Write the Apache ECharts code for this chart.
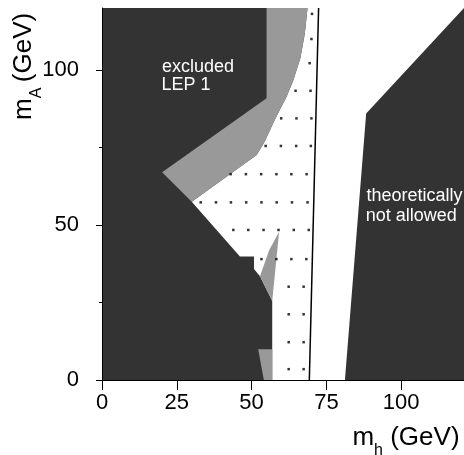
<!DOCTYPE html>
<html>
<head>
<meta charset="utf-8">
<script src="https://cdn.jsdelivr.net/npm/echarts@6/dist/echarts.min.js"></script>
<style>
  html, body { margin: 0; padding: 0; background: #ffffff; }
  #chart { width: 464px; height: 455px; }
</style>
</head>
<body>
<div id="chart"></div>
<script>
  // tick labels
  var xTicks = [0, 25, 50, 75, 100];
  var yTicks = [0, 50, 100];
  var yMinorTicks = [25, 75];

  // right edge of the LEP 2 band, bottom to top (m_h, m_A)
  var lep2Edge = [[30, 57.5], [51.7, 72.6], [54.4, 76.9], [57.2, 82.8], [59.4, 87.1], [61.7, 91.4],
                  [63.9, 96.5], [66.3, 103.8], [67.8, 111.8], [68.7, 120]];
  // edge of the LEP 1 exclusion, from the tip up to the top
  var lep1Edge = [[20.1, 67], [55, 90.9], [55, 120]];
  // lower left exclusion, top to bottom
  var lowerEdge = [[30, 57.5], [46.1, 39.8], [50.8, 39.8], [50.8, 35.8], [52.8, 33.5], [56.9, 25.5], [56.9, 0]];
  // theoretically not allowed, top to bottom
  var theoryEdge = [[121, 120], [88.3, 86], [81.2, 0]];
  // small grey LEP 2 pieces
  var greyWedge = [[59.2, 47.8], [55.9, 41.9], [52.8, 33.5], [56.9, 25.5]];
  var greyFoot = [[52.2, 9.9], [56.9, 9.9], [56.9, 0], [54.1, 0]];
  // solid boundary line
  var boundaryLine = [[69.3, 0], [72.4, 120]];
  // dotted region: [m_A, [m_h ...]]
  var dotRows = [
    [118.1, [70.2]],
    [110, [70]],
    [102.2, [69.4]],
    [93.3, [64.7, 69.7]],
    [84.4, [59.9, 65, 70]],
    [75.5, [54.7, 59.8, 64.9, 69.8]],
    [66.4, [43, 48.1, 53.2, 58.3, 63.3, 68.4]],
    [57.3, [33, 38.1, 43.1, 48.2, 53.3, 58.4, 63.5, 68.7]],
    [48.4, [43.9, 48.9, 54, 59, 64.1, 69.1]],
    [39, [53.3, 58.3, 63.3, 68.3]],
    [30.1, [62.4, 67.4]],
    [21.2, [62.4, 67.4]],
    [12.2, [62.4, 67.4]],
    [3.5, [62.4, 67.4]]
  ];

  var DARK = '#333333';
  var GREY = '#999999';
  var FONT = '"Liberation Sans", Arial, Helvetica, sans-serif';

  var whiteArea = lep2Edge.concat(theoryEdge, lowerEdge.slice().reverse());
  var greyBand = lep1Edge.concat(lep2Edge.slice().reverse());
  var dots = [];
  dotRows.forEach(function (row) {
    row[1].forEach(function (x) { dots.push([x, row[0]]); });
  });

  function area(name, pts, color) {
    return {
      name: name,
      type: 'custom',
      silent: true,
      data: pts,
      renderItem: function (params, api) {
        if (params.dataIndex !== 0) return;
        return {
          type: 'polygon',
          shape: { points: pts.map(function (p) { return api.coord(p); }) },
          style: { fill: color }
        };
      }
    };
  }

  // text placed by its baseline
  function txt(s, x, base, size, color) {
    return {
      type: 'text', x: x, y: base - 0.35 * size, silent: true,
      style: { text: s, fill: color, font: size + 'px ' + FONT, align: 'left', verticalAlign: 'middle' }
    };
  }

  function axisName(sub) {
    return [
      txt('m', 0, 0, 26, '#000'),
      txt(sub, 21.7, 9.5, 16, '#000'),
      txt('(GeV)', 37.8, 0, 26, '#000')
    ];
  }

  var chart = echarts.init(document.getElementById('chart'));
  var option = {
    animation: false,
    grid: {
      left: 102, top: 8, width: 363, height: 372,
      show: true, backgroundColor: DARK, borderWidth: 0
    },
    xAxis: [{
      type: 'value', min: 0, max: 121, position: 'bottom', z: 10,
      axisLine: { lineStyle: { color: '#000', width: 1 } },
      axisTick: { customValues: xTicks, length: 6, lineStyle: { color: '#000' } },
      axisLabel: { customValues: xTicks, fontSize: 22, color: '#000', fontFamily: FONT, margin: 12 },
      splitLine: { show: false }
    }, {
      type: 'value', min: 0, max: 121, position: 'top', z: 10,
      axisLine: { show: true, lineStyle: { color: '#000', width: 1 } },
      axisTick: { customValues: xTicks, inside: true, length: 10, lineStyle: { color: '#000' } },
      axisLabel: { show: false },
      splitLine: { show: false }
    }],
    yAxis: [{
      type: 'value', min: 0, max: 120, position: 'left', z: 10,
      axisLine: { show: true, lineStyle: { color: '#000', width: 1 } },
      axisTick: { show: true, customValues: yTicks, length: 6, lineStyle: { color: '#000' } },
      axisLabel: { customValues: yTicks, fontSize: 22, color: '#000', fontFamily: FONT, margin: 23 },
      splitLine: { show: false }
    }, {
      type: 'value', min: 0, max: 120, position: 'left', z: 10,
      axisLine: { show: false },
      axisTick: { show: true, customValues: yMinorTicks, length: 3, lineStyle: { color: '#000' } },
      axisLabel: { show: false },
      splitLine: { show: false }
    }],
    graphic: [
      txt('excluded', 162, 73, 18, '#fff'),
      txt('LEP 1', 161.4, 91.7, 18, '#fff'),
      txt('LEP 2', 184.7, 170, 18, '#fff'),
      txt('theoretically', 366.5, 202.2, 18, '#fff'),
      txt('not allowed', 365.8, 222.2, 18, '#fff'),
      { type: 'group', x: 352.4, y: 446.7, children: axisName('h') },
      { type: 'group', x: 33, y: 120, rotation: Math.PI / 2, children: axisName('A') }
    ],
    series: [
      area('allowed', whiteArea, '#ffffff'),
      {
        name: 'dots', type: 'scatter', symbol: 'rect', symbolSize: 2.5,
        itemStyle: { color: '#000' }, silent: true, data: dots
      },
      area('LEP 2', greyBand, GREY),
      area('LEP 2 wedge', greyWedge, GREY),
      area('LEP 2 foot', greyFoot, GREY),
      {
        name: 'boundary', type: 'line', data: boundaryLine, symbol: 'none', silent: true,
        lineStyle: { color: '#000', width: 1.5 }
      }
    ]
  };
  chart.setOption(option);
</script>
</body>
</html>
